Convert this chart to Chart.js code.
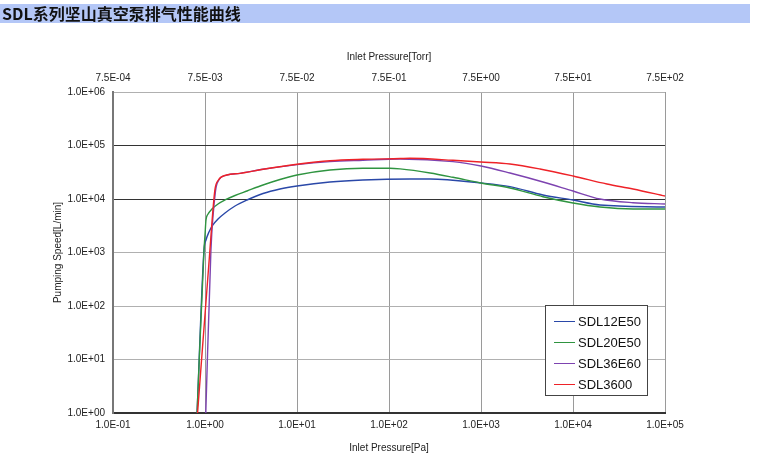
<!DOCTYPE html>
<html>
<head>
<meta charset="utf-8">
<script src="https://cdn.jsdelivr.net/npm/chart.js@4"></script>
<style>
  body { margin: 0; background: #fff; }
  #head {
    position: absolute; left: 0; top: 4px; width: 750px; height: 19px;
    background: #b4c7f7; color: #111;
    font: bold 16px "Noto Sans CJK SC", sans-serif; line-height: 19px;
    padding-left: 2px; box-sizing: border-box; z-index: 2;
  }
  #myChart { position: absolute; left: 0; top: 0; }
</style>
</head>
<body>
<div id="head">SDL系列坚山真空泵排气性能曲线</div>
<canvas id="myChart" width="757" height="462"></canvas>
<script>
const paTicks = [0.1, 1, 10, 100, 1000, 10000, 100000];
const paLabels = ["1.0E-01", "1.0E+00", "1.0E+01", "1.0E+02", "1.0E+03", "1.0E+04", "1.0E+05"];
const torrLabels = ["7.5E-04", "7.5E-03", "7.5E-02", "7.5E-01", "7.5E+00", "7.5E+01", "7.5E+02"];
const speedTicks = [1, 10, 100, 1000, 10000, 100000, 1000000];
const speedLabels = ["1.0E+00", "1.0E+01", "1.0E+02", "1.0E+03", "1.0E+04", "1.0E+05", "1.0E+06"];

// inlet pressure [Pa] / pumping speed [L/min]
const sdl12P = [0.82, 0.975, 1.025, 1.105, 1.22, 1.385, 1.65, 2.12, 2.86, 4.27, 6.53, 10, 22.8, 52, 169, 280, 1000, 2066, 4720, 10000, 19650, 100000];
const sdl12S = [1, 1100, 1710, 2420, 3270, 4230, 5470, 7400, 9580, 12670, 15380, 17500, 20780, 22650, 23650, 23650, 19900, 17000, 11880, 9580, 7720, 7080];

const sdl20P = [0.82, 0.975, 1.0, 1.025, 1.08, 1.19, 1.385, 1.65, 2.12, 2.86, 4.27, 6.53, 10, 22.8, 52, 102, 132, 280, 496, 1000, 2066, 4720, 10000, 19650, 44900, 100000];
const sdl20S = [1, 1100, 2120, 4050, 5250, 6500, 8070, 9580, 11620, 14120, 18260, 23130, 28100, 34800, 37500, 37500, 36500, 30600, 25460, 19900, 16060, 11040, 8420, 7080, 6500, 6500];

const sdl36P = [1.02, 1.16, 1.3, 1.4, 1.72, 2.4, 4.27, 10, 22.8, 52, 132, 496, 1000, 2066, 4720, 10000, 19650, 44900, 100000];
const sdl36S = [1, 1113, 14000, 22000, 28000, 30200, 35900, 44000, 50000, 53000, 55950, 50000, 41400, 30600, 20780, 14100, 10000, 8530, 8070];

const sdl3600P = [0.83, 1.11, 1.28, 1.4, 1.72, 2.4, 4.27, 10, 22.8, 52, 132, 169, 496, 1000, 2066, 4375, 10000, 23400, 44900, 100000];
const sdl3600S = [1, 724, 14700, 22650, 28100, 30200, 35900, 44540, 52000, 55200, 57000, 57650, 53000, 49200, 45100, 36400, 26900, 19060, 15380, 11380];

const toPoints = (xs, ys) => xs.map((x, i) => ({ x: x, y: ys[i] }));
const font = { family: "'Liberation Sans', Arial, sans-serif", size: 10 };

const legendBox = {
  id: "legendBox",
  afterDraw(chart) {
    const c = chart.ctx;
    c.save();
    c.fillStyle = "#fff";
    c.fillRect(545, 305, 102, 90);
    c.strokeStyle = "#444";
    c.lineWidth = 1;
    c.strokeRect(545.5, 305.5, 102, 90);
    c.font = "13px 'Liberation Sans', Arial, sans-serif";
    c.textBaseline = "middle";
    chart.data.datasets.forEach((ds, i) => {
      const y = 321 + i * 21;
      c.strokeStyle = ds.borderColor;
      c.lineWidth = 1;
      c.beginPath();
      c.moveTo(554, y + 0.5);
      c.lineTo(575, y + 0.5);
      c.stroke();
      c.fillStyle = "#111";
      c.fillText(ds.label, 578, y + 1);
    });
    c.restore();
  },
};

const ctx = document.getElementById("myChart");
const myChart = new Chart(ctx, {
  type: "line",
  data: {
    datasets: [
      { label: "SDL12E50", data: toPoints(sdl12P, sdl12S), borderColor: "#2a48a8", order: 3 },
      { label: "SDL20E50", data: toPoints(sdl20P, sdl20S), borderColor: "#2f9440", order: 2 },
      { label: "SDL36E60", data: toPoints(sdl36P, sdl36S), borderColor: "#7d43b0", order: 1 },
      { label: "SDL3600", data: toPoints(sdl3600P, sdl3600S), borderColor: "#ee2228", order: 0 },
    ],
  },
  options: {
    responsive: false,
    animation: false,
    devicePixelRatio: 1,
    layout: { padding: { left: 0, top: 0, right: 92, bottom: 0 } },
    elements: {
      point: { radius: 0 },
      line: { borderWidth: 1.4, cubicInterpolationMode: "monotone", fill: false },
    },
    plugins: { legend: { display: false }, tooltip: { enabled: false } },
    scales: {
      x: {
        type: "logarithmic",
        position: "bottom",
        min: 0.1,
        max: 100000,
        afterBuildTicks: (s) => { s.ticks = paTicks.map((v) => ({ value: v })); },
        afterFit: (s) => { s.height = 49; },
        ticks: { autoSkip: false, maxRotation: 0, padding: 6, color: "#222", font: font,
          callback: (v, i) => paLabels[i] },
        grid: { color: "#9a9a9a", lineWidth: 1, drawTicks: false },
        border: { color: "#333", width: 2 },
        title: { display: true, text: "Inlet Pressure[Pa]", color: "#222", font: font, padding: { top: 0, bottom: 8 } },
      },
      x2: {
        type: "logarithmic",
        position: "top",
        min: 0.1,
        max: 100000,
        afterBuildTicks: (s) => { s.ticks = paTicks.map((v) => ({ value: v })); },
        afterFit: (s) => { s.height = 92; },
        ticks: { autoSkip: false, maxRotation: 0, padding: 8, color: "#222", font: font,
          callback: (v, i) => torrLabels[i] },
        grid: { display: false, drawTicks: false },
        border: { display: false },
        title: { display: true, text: "Inlet Pressure[Torr]", color: "#222", font: font, padding: { top: 51, bottom: 0 } },
      },
      y: {
        type: "logarithmic",
        min: 1,
        max: 1000000,
        afterBuildTicks: (s) => { s.ticks = speedTicks.map((v) => ({ value: v })); },
        afterFit: (s) => { s.width = 113; },
        ticks: { autoSkip: false, padding: 8, color: "#222", font: font,
          callback: (v, i) => speedLabels[i] },
        grid: {
          drawTicks: false,
          lineWidth: 1,
          color: (c) => (c.tick && (c.tick.value === 10000 || c.tick.value === 100000) ? "#333" : "#b0b0b0"),
        },
        border: { color: "#777", width: 2 },
        title: { display: true, text: "Pumping Speed[L/min]", color: "#222", font: font, padding: { top: 52, bottom: 0 } },
      },
    },
  },
  plugins: [legendBox],
});
</script>
</body>
</html>
